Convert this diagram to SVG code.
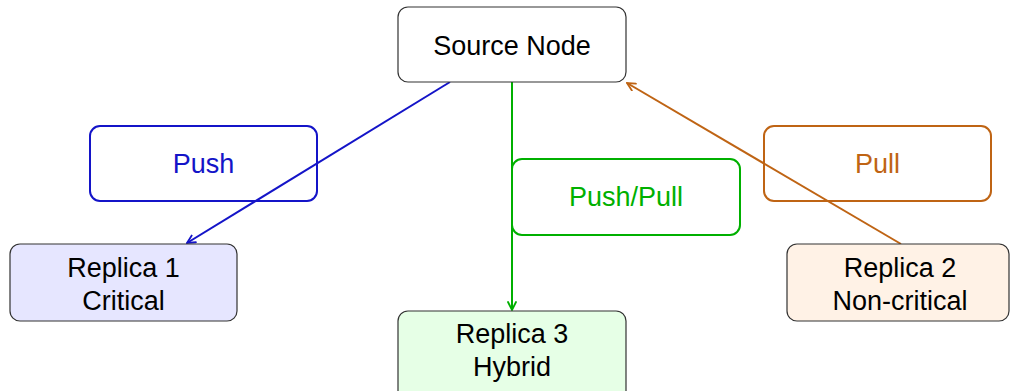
<svg xmlns="http://www.w3.org/2000/svg" width="1010" height="391" viewBox="0 0 1010 391">
  <style>
    text { font-family: "Liberation Sans", Arial, sans-serif; font-size: 27px; text-anchor: middle; }
    .node { stroke: #333; stroke-width: 1.2; }
    .lbl { fill: none; stroke-width: 2; }
    .edge { fill: none; stroke-width: 2; }
  </style>
  <defs>
    <marker id="ahBlue" viewBox="0 0 10 10" refX="9" refY="5" markerWidth="10" markerHeight="10" markerUnits="userSpaceOnUse" orient="auto">
      <path d="M1,1 L9,5 L1,9" fill="none" stroke="#1414c8" stroke-width="1.8" stroke-linecap="round"/>
    </marker>
    <marker id="ahGreen" viewBox="0 0 10 10" refX="9" refY="5" markerWidth="10" markerHeight="10" markerUnits="userSpaceOnUse" orient="auto">
      <path d="M1,1 L9,5 L1,9" fill="none" stroke="#00b000" stroke-width="1.8" stroke-linecap="round"/>
    </marker>
    <marker id="ahOrange" viewBox="0 0 10 10" refX="9" refY="5" markerWidth="10" markerHeight="10" markerUnits="userSpaceOnUse" orient="auto">
      <path d="M1,1 L9,5 L1,9" fill="none" stroke="#bf6414" stroke-width="1.8" stroke-linecap="round"/>
    </marker>
  </defs>

  <g id="connectors">
    <line class="edge" x1="450" y1="82" x2="187" y2="243" stroke="#1414c8" marker-end="url(#ahBlue)"/>
    <line class="edge" x1="512" y1="82" x2="512" y2="310" stroke="#00b000" marker-end="url(#ahGreen)"/>
    <line class="edge" x1="901" y1="244" x2="627" y2="83" stroke="#bf6414" marker-end="url(#ahOrange)"/>
  </g>

  <g id="label-push">
    <rect class="lbl" x="90" y="126" width="227" height="75" rx="10" stroke="#1414c8"/>
    <text x="203.5" y="173" fill="#1414c8">Push</text>
  </g>
  <g id="label-pushpull">
    <rect class="lbl" x="512" y="159" width="228" height="76" rx="10" stroke="#00b000"/>
    <text x="626" y="206" fill="#00b000">Push/Pull</text>
  </g>
  <g id="label-pull">
    <rect class="lbl" x="764" y="126" width="227" height="75" rx="10" stroke="#bf6414"/>
    <text x="877.5" y="173" fill="#bf6414">Pull</text>
  </g>

  <g id="source">
    <rect class="node" x="398" y="7" width="228" height="75" rx="10" fill="#fff"/>
    <text x="512" y="55">Source Node</text>
  </g>
  <g id="replica1">
    <rect class="node" x="10" y="244" width="227" height="77" rx="10" fill="#e6e6ff"/>
    <text x="123.5" y="277">Replica 1</text>
    <text x="123.5" y="310">Critical</text>
  </g>
  <g id="replica2">
    <rect class="node" x="787" y="244" width="222" height="77" rx="10" fill="#fff2e6"/>
    <text x="900" y="277">Replica 2</text>
    <text x="900" y="310">Non-critical</text>
  </g>
  <g id="replica3">
    <rect class="node" x="398" y="311" width="228" height="90" rx="10" fill="#e6ffe6"/>
    <text x="512" y="343">Replica 3</text>
    <text x="512" y="376">Hybrid</text>
  </g>
</svg>
